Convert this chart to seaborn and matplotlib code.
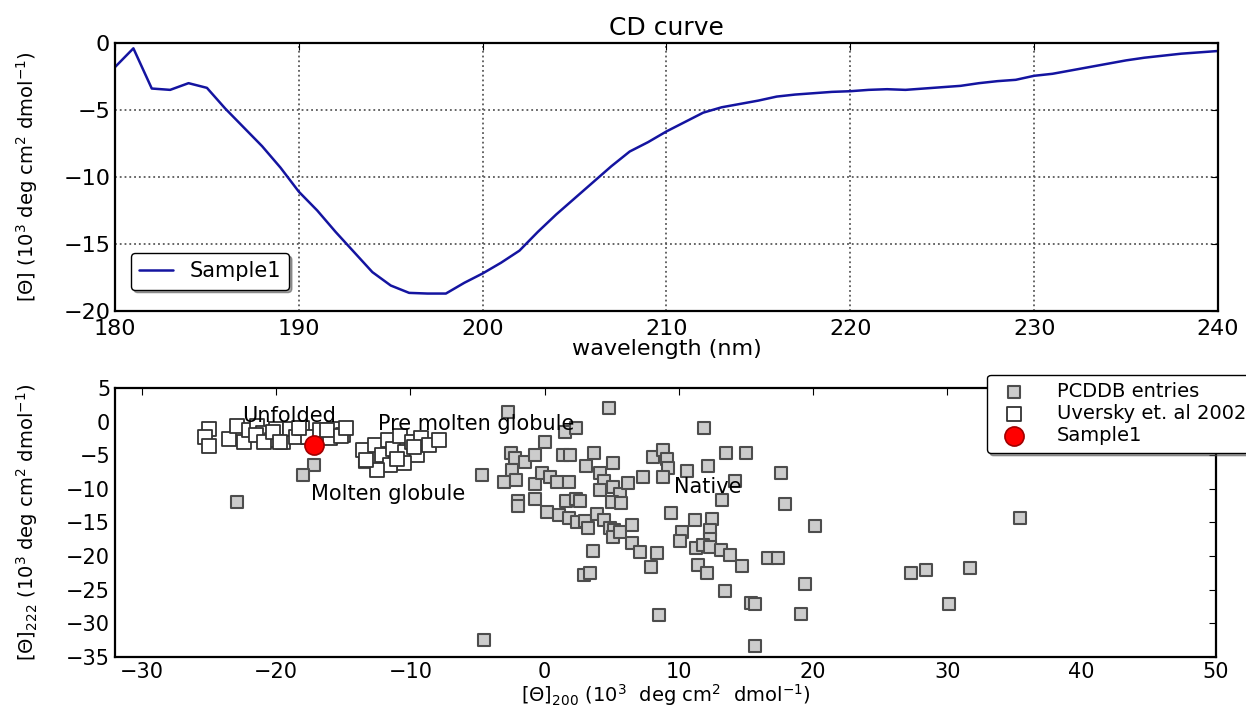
import matplotlib
matplotlib.use("Agg")
import matplotlib.pyplot as plt
import seaborn as sns

# CD curve (wavelength in nm, theta in 10^3 deg cm2 dmol-1)
wavelength = list(range(180, 241))
theta = [
    -1.8, -0.4, -3.4, -3.5, -3.0, -3.35, -4.9, -6.3, -7.7, -9.3,
    -11.1, -12.5, -14.1, -15.6, -17.1, -18.1, -18.65, -18.7, -18.7, -17.9,
    -17.2, -16.4, -15.5, -14.1, -12.8, -11.6, -10.4, -9.2, -8.1, -7.4,
    -6.6, -5.9, -5.2, -4.8, -4.55, -4.3, -4.0, -3.85, -3.75, -3.65,
    -3.6, -3.5, -3.45, -3.5, -3.4, -3.3, -3.2, -3.0, -2.85, -2.75,
    -2.45, -2.3, -2.05, -1.8, -1.55, -1.3, -1.1, -0.95, -0.8, -0.7,
    -0.6,
]

# PCDDB entries: theta200 vs theta222
pcddb_x = [
    -17.2, -18.0, -22.9, -13.4,
    -2.7, 4.8, 1.5, 2.3, 0.0, -2.5, -2.2, -1.5, -0.7, 1.4, 1.9, 3.7, -2.4,
    -4.7, -3.0, -2.1, -0.7, -0.2, 0.4, 0.9, 1.8, 3.1, 4.1, 5.1, 4.4, 4.1,
    5.1, 5.6, 6.2, 7.3, 8.1, -2.0, -2.0, -0.7, 1.6, 2.3, 2.6, 5.0, 5.7,
    0.2, 1.1, 1.8, 2.4, 3.0, 3.9, 3.2, 4.4, 4.9, 5.2, 5.1, 5.6, 6.5, 6.5,
    7.1, 8.4, 7.9, 3.6, 2.9, 3.4, -4.5, 8.5,
    11.9, 8.8, 9.1, 9.2, 8.8, 10.6, 12.2, 13.5, 15.0, 14.2, 13.2, 17.6,
    17.9, 9.4, 11.2, 12.5, 10.2, 12.3, 10.1, 12.3, 11.3, 11.8, 12.3, 13.1,
    13.8, 14.7, 11.4, 12.1, 13.4, 15.4, 15.7, 16.6, 17.4, 20.1, 19.4,
    19.1, 15.7,
    35.4, 27.3, 28.4, 31.7, 30.1,
]
pcddb_y = [
    -6.5, -7.9, -12.0, -6.0,
    1.5, 2.0, -1.5, -1.0, -3.0, -4.6, -5.4, -6.0, -4.9, -4.9, -4.9, -4.6, -7.2,
    -8.0, -9.0, -8.7, -9.3, -7.7, -8.2, -9.0, -9.0, -6.6, -7.7, -6.2, -8.8, -10.2,
    -9.7, -10.7, -9.2, -8.2, -5.2, -11.8, -12.6, -11.5, -11.8, -11.5, -11.8, -12.0, -12.1,
    -13.5, -13.9, -14.3, -14.9, -14.8, -13.8, -15.8, -14.6, -15.8, -16.1, -17.2, -16.4, -15.3, -18.1,
    -19.4, -19.6, -21.6, -19.3, -22.8, -22.5, -32.4, -28.7,
    -1.0, -4.2, -5.5, -6.9, -8.3, -7.3, -6.6, -4.6, -4.7, -8.8, -11.6, -7.7,
    -12.3, -13.6, -14.6, -14.5, -16.4, -16.1, -17.7, -17.4, -18.8, -18.3, -18.6, -19.1,
    -19.8, -21.4, -21.3, -22.5, -25.2, -26.9, -27.1, -20.3, -20.3, -15.5, -24.2,
    -28.6, -33.3,
    -14.4, -22.5, -22.0, -21.8, -27.1,
]

# Uversky et al. 2002 reference proteins
uversky_x = [
    -25.0, -25.3, -25.0, -23.5, -22.9, -22.4, -22.0, -21.4, -21.0, -20.3,
    -20.0, -19.5, -19.0, -18.5, -18.1, -17.6, -16.7, -16.0, -15.7, -15.0,
    -21.5, -20.9, -20.2, -19.7, -18.3, -16.2, -15.2, -14.8,
    -13.5, -12.6, -12.1, -11.7, -11.3, -10.8, -10.4, -9.9, -9.5, -9.2,
    -8.6, -7.9, -10.5, -11.5, -12.5, -13.3, -11.0, -9.7,
]
uversky_y = [
    -1.1, -2.3, -3.7, -2.6, -0.7, -3.0, -1.2, -0.6, -1.7, -2.7,
    -1.1, -3.0, -1.1, -2.3, -1.0, -2.3, -1.2, -2.5, -1.1, -2.0,
    -2.0, -3.0, -1.5, -3.0, -0.9, -1.2, -2.2, -1.0,
    -4.2, -3.5, -5.0, -2.7, -4.0, -2.2, -4.5, -3.0, -5.0, -2.5,
    -3.5, -2.7, -6.2, -6.4, -7.2, -5.7, -5.5, -3.8,
]

sample_x = [-17.2]
sample_y = [-3.5]

region_labels = ["Unfolded", "Pre molten globule", "Molten globule", "Native"]
region_x = [-22.5, -12.4, -17.4, 9.6]
region_y = [0.0, -1.25, -11.6, -10.6]

sns.set_style("white")
plt.rcParams["font.family"] = ["DejaVu Sans"]
plt.rcParams["mathtext.fontset"] = "dejavusans"
plt.rcParams["text.color"] = "black"
plt.rcParams["axes.labelcolor"] = "black"
plt.rcParams["xtick.color"] = "black"
plt.rcParams["ytick.color"] = "black"

fig = plt.figure(figsize=(12.46, 7.09), dpi=100)
ax1 = fig.add_axes([0.0923, 0.5614, 0.8852, 0.378])
ax2 = fig.add_axes([0.0923, 0.0733, 0.8836, 0.3795])

# top: CD curve
sns.lineplot(x=wavelength, y=theta, ax=ax1, color="#1414a0", linewidth=1.8,
             label="Sample1")
ax1.set_xlim(180, 240)
ax1.set_ylim(-20, 0)
ax1.set_xticks(range(180, 241, 10))
ax1.set_yticks(range(-20, 1, 5))
ax1.grid(True, color="0.35", linestyle=":", linewidth=1.3)
ax1.set_title("CD curve", fontsize=18, pad=6, color="black")
ax1.set_xlabel("wavelength (nm)", fontsize=16, labelpad=0)
ax1.set_ylabel("[Θ] (10$^3$ deg cm$^2$ dmol$^{-1}$)", fontsize=14)
ax1.yaxis.set_label_coords(-0.068, 0.5)
ax1.tick_params(labelsize=16, direction="in", length=5, top=True, right=True)
ax1.tick_params(axis="x", pad=6)
ax1.legend(loc="lower left", bbox_to_anchor=(0.005, 0.04), fontsize=15,
           frameon=True, fancybox=True, shadow=True, edgecolor="black",
           framealpha=1, handlelength=1.6)

# bottom: theta200 vs theta222
sns.scatterplot(x=pcddb_x, y=pcddb_y, ax=ax2, marker="s", s=80,
                color="0.8", edgecolor="0.3", linewidth=1.5,
                label="PCDDB entries", zorder=3)
sns.scatterplot(x=uversky_x, y=uversky_y, ax=ax2, marker="s", s=95,
                color="white", edgecolor="0.2", linewidth=1.3,
                label="Uversky et. al 2002", zorder=3)
sns.scatterplot(x=sample_x, y=sample_y, ax=ax2, marker="o", s=190,
                color="#ff0000", edgecolor="#a00000", linewidth=1.2,
                label="Sample1", zorder=4)
for lab, tx, ty in zip(region_labels, region_x, region_y):
    ax2.text(tx, ty, lab, fontsize=15, va="baseline", ha="left", zorder=5)
ax2.set_xlim(-32, 50)
ax2.set_ylim(-35, 5)
ax2.set_xticks(range(-30, 51, 10))
ax2.set_yticks(range(-35, 6, 5))
ax2.set_xlabel("[Θ]$_{200}$ (10$^3$  deg cm$^2$  dmol$^{-1}$)", fontsize=14,
               labelpad=0)
ax2.set_ylabel("[Θ]$_{222}$ (10$^3$ deg cm$^2$ dmol$^{-1}$)", fontsize=14)
ax2.yaxis.set_label_coords(-0.068, 0.5)
ax2.tick_params(labelsize=15, direction="in", length=5, top=True, right=True)
ax2.legend(loc="upper left", bbox_to_anchor=(0.792, 1.05), fontsize=14,
           frameon=True, fancybox=True, shadow=True, edgecolor="black",
           framealpha=1, handletextpad=1.2, borderaxespad=0,
           labelspacing=0.15)

for ax in (ax1, ax2):
    for sp in ax.spines.values():
        sp.set_linewidth(1.6)
        sp.set_color("black")

fig.savefig("out.png", dpi=100)
